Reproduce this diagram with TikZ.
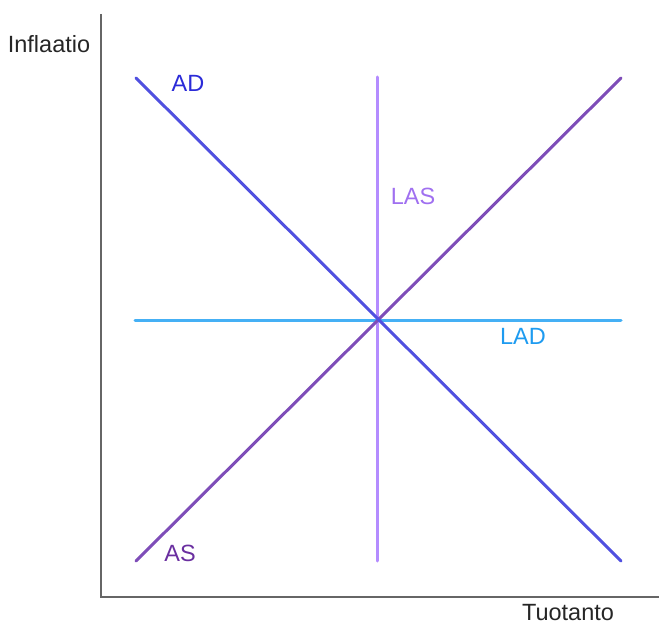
\documentclass[tikz,border=0pt]{standalone}
\usepackage{fontspec}
\setmainfont{Liberation Sans}
\definecolor{axisc}{HTML}{666666}
\definecolor{adc}{HTML}{5050E0}
\definecolor{adt}{HTML}{2B2BD8}
\definecolor{asc}{HTML}{7E4DB8}
\definecolor{ast}{HTML}{6A2FA0}
\definecolor{lasc}{HTML}{B48CFF}
\definecolor{last}{HTML}{A070F0}
\definecolor{ladc}{HTML}{45B0F5}
\definecolor{ladt}{HTML}{1E9BF0}
\begin{document}
\begin{tikzpicture}[x=1pt,y=-1pt,
  curve/.style={line width=3pt,line cap=round},
  lbl/.style={font=\fontsize{23.5}{26}\selectfont,inner sep=0pt}]
\useasboundingbox (0,0) rectangle (659,626);
% axes
\coordinate (ytop) at (101,14);
\coordinate (orig) at (101,597);
\coordinate (xend) at (659,597);
\draw[axisc,line width=2pt] (ytop) -- (orig) -- (xend);
\node[lbl,text=black!85] (ylab) at (49,44) {Inflaatio};
\node[lbl,text=black!85] (xlab) at (568,613) {Tuotanto};
% curves
\coordinate (ad1) at (136,78); \coordinate (ad2) at (621,561);
\coordinate (as1) at (136,561); \coordinate (as2) at (621,78);
\coordinate (las1) at (377,77); \coordinate (las2) at (377,561);
\coordinate (lad1) at (135,320); \coordinate (lad2) at (621,320);
\draw[curve,lasc] (las1) -- (las2);
\draw[curve,ladc] (lad1) -- (lad2);
\draw[curve,asc] (as1) -- (as2);
\draw[curve,adc] (ad1) -- (ad2);
\node[lbl,text=adt] (adl) at (188,83) {AD};
\node[lbl,text=ast] (asl) at (180,553) {AS};
\node[lbl,text=last] (lasl) at (413,196) {LAS};
\node[lbl,text=ladt] (ladl) at (523,336) {LAD};
\end{tikzpicture}
\end{document}
